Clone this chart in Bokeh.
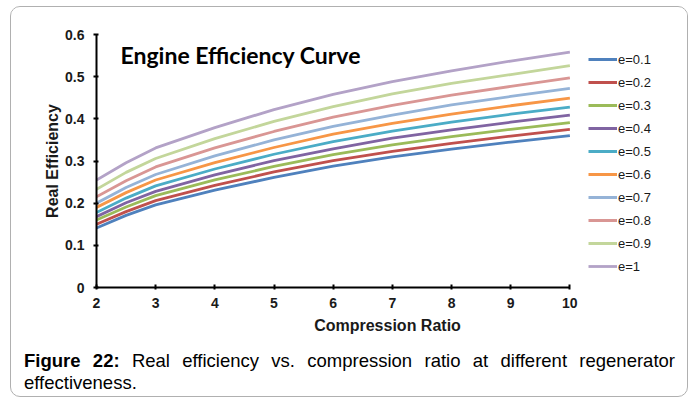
from bokeh.plotting import figure
from bokeh.models import Label, Legend, LegendItem, FixedTicker, Range1d, Div
from bokeh.layouts import column
from bokeh.embed import file_html
from bokeh.resources import INLINE

# ---------------- data ----------------
compression_ratio = [2, 2.5, 3, 4, 5, 6, 7, 8, 9, 10]

series_names = ["e=0.1", "e=0.2", "e=0.3", "e=0.4", "e=0.5",
                "e=0.6", "e=0.7", "e=0.8", "e=0.9", "e=1"]

eff_e01 = [0.141, 0.171, 0.196, 0.231, 0.261, 0.288, 0.310, 0.328, 0.345, 0.360]
eff_e02 = [0.150, 0.180, 0.206, 0.242, 0.274, 0.301, 0.323, 0.342, 0.359, 0.375]
eff_e03 = [0.160, 0.191, 0.218, 0.255, 0.287, 0.315, 0.338, 0.358, 0.375, 0.391]
eff_e04 = [0.168, 0.201, 0.228, 0.267, 0.301, 0.329, 0.354, 0.374, 0.392, 0.409]
eff_e05 = [0.178, 0.212, 0.241, 0.281, 0.316, 0.346, 0.371, 0.392, 0.411, 0.428]
eff_e06 = [0.190, 0.225, 0.255, 0.296, 0.332, 0.364, 0.389, 0.411, 0.431, 0.449]
eff_e07 = [0.200, 0.237, 0.268, 0.312, 0.350, 0.382, 0.409, 0.433, 0.453, 0.472]
eff_e08 = [0.215, 0.253, 0.286, 0.331, 0.370, 0.404, 0.432, 0.456, 0.477, 0.497]
eff_e09 = [0.233, 0.273, 0.306, 0.353, 0.394, 0.429, 0.459, 0.484, 0.505, 0.526]
eff_e10 = [0.255, 0.296, 0.331, 0.379, 0.422, 0.458, 0.488, 0.514, 0.537, 0.558]

x_ticks = [2, 3, 4, 5, 6, 7, 8, 9, 10]
x_tick_labels = ["2", "3", "4", "5", "6", "7", "8", "9", "10"]
y_ticks = [0, 0.1, 0.2, 0.3, 0.4, 0.5, 0.6]
y_tick_labels = ["0", "0.1", "0.2", "0.3", "0.4", "0.5", "0.6"]

chart_title = "Engine Efficiency Curve"
x_title = "Compression Ratio"
y_title = "Real Efficiency"
caption_label = "Figure 22:"
caption_line1 = "Real efficiency vs. compression ratio at different regenerator"
caption_line2 = "effectiveness."

all_series = [eff_e01, eff_e02, eff_e03, eff_e04, eff_e05,
              eff_e06, eff_e07, eff_e08, eff_e09, eff_e10]

# ---------------- style ----------------
colors = ["#4F81BD", "#C0504D", "#9BBB59", "#8064A2", "#4BACC6",
          "#F79646", "#95B3D7", "#D99694", "#C3D69B", "#B3A2C7"]

OX, OY = 11, 7                  # page position of the boxed content
W, H1, H2 = 678, 340, 49
AX_L, AX_R = 96, 571            # page x of the axis ends (x=2 .. x=10)
FL, FT, FH = AX_L - OX, 34 - OY, 253
FW = 680 - AX_L                 # frame also holds the legend area
x_end = x_ticks[0] + (x_ticks[-1] - x_ticks[0]) * FW / (AX_R - AX_L)

p = figure(width=W, height=H1, output_backend="svg", toolbar_location=None,
           x_range=Range1d(x_ticks[0], x_end),
           y_range=Range1d(y_ticks[0], y_ticks[-1]),
           min_border_left=FL, min_border_top=FT,
           min_border_right=W - FL - FW, min_border_bottom=H1 - FT - FH)
p.outline_line_color = None
p.grid.visible = False
p.background_fill_color = "white"
p.border_fill_color = "white"

renderers = []
for ys, c in zip(all_series, colors):
    r = p.line(compression_ratio, ys, line_color=c, line_width=2.8)
    renderers.append(r)

for ax in (p.xaxis[0], p.yaxis[0]):
    ax.axis_line_color = "black"
    ax.axis_line_width = 2
    ax.major_tick_line_color = "black"
    ax.major_tick_line_width = 2
    ax.minor_tick_line_color = None
    ax.major_label_text_font = "Liberation Sans"
    ax.major_label_text_font_style = "bold"
    ax.major_label_text_font_size = "14px"
    ax.major_label_text_color = "#1a1a1a"
    ax.axis_label_text_font = "Liberation Sans"
    ax.axis_label_text_font_style = "bold"
    ax.axis_label_text_font_size = "16px"
    ax.axis_label_text_color = "#1a1a1a"

p.xaxis.bounds = (x_ticks[0], x_ticks[-1])
p.xaxis.ticker = FixedTicker(ticks=x_ticks)
p.xaxis.major_label_overrides = dict(zip(x_ticks, x_tick_labels))
p.xaxis.major_tick_in = 3
p.xaxis.major_tick_out = 2
p.xaxis.major_label_standoff = 8
p.xaxis.axis_label = x_title
p.xaxis.axis_label_standoff = 6

p.yaxis.ticker = FixedTicker(ticks=y_ticks)
p.yaxis.major_label_overrides = dict(zip(y_ticks, y_tick_labels))
p.yaxis.major_tick_in = 2
p.yaxis.major_tick_out = 3
p.yaxis.major_label_standoff = 9
p.yaxis.axis_label = y_title
p.yaxis.axis_label_standoff = 1

legend = Legend(items=[LegendItem(label=n, renderers=[r])
                       for n, r in zip(series_names, renderers)],
                location=(588 - AX_L, 11), padding=0, margin=0, spacing=3,
                glyph_width=29, glyph_height=20, label_height=20,
                label_standoff=1, label_text_font="Liberation Sans",
                label_text_font_size="13px", label_text_color="#1a1a1a",
                border_line_alpha=0, background_fill_alpha=0)
p.add_layout(legend)

p.add_layout(Label(x=24, y=233, x_units="screen", y_units="screen",
                   text=chart_title, text_font="Lato", text_font_style="bold",
                   text_font_size="23px", text_baseline="middle",
                   text_color="black"))

# ---------------- caption ----------------
font_css = ("font-family:'Liberation Sans', Arial, sans-serif; "
            "font-size:18.5px; line-height:22px; color:#000;")
cap_html = (
    f'<div style="width:651px; margin-left:13px; padding-top:3px; {font_css}">'
    '<div style="text-align:justify; text-align-last:justify; white-space:nowrap;">'
    f'<b>{caption_label}</b> {caption_line1}</div>'
    f'<div style="text-align:left;">{caption_line2}</div>'
    '</div>'
)
cap = Div(text=cap_html, width=W, height=H2, margin=0)

layout = column(p, cap, spacing=0)
layout.styles = {"margin-left": f"{OX - 1}px", "margin-top": f"{OY - 1}px",
                 "border": "1px solid #b0b0b0", "border-radius": "10px",
                 "overflow": "hidden", "width": f"{W}px"}

open("out.html", "w").write(file_html(layout, INLINE))
